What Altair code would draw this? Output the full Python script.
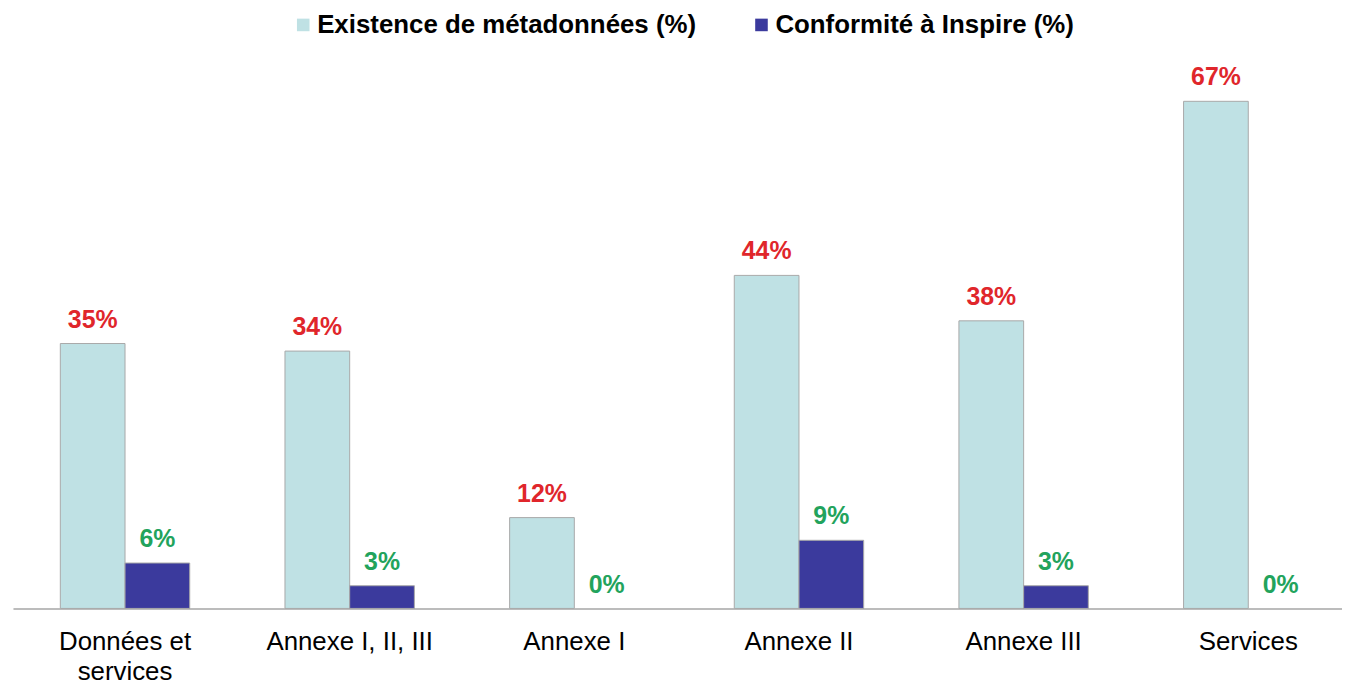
import altair as alt
import pandas as pd

categories = ["Données et services", "Annexe I, II, III", "Annexe I", "Annexe II", "Annexe III", "Services"]
existence = [35, 34, 12, 44, 38, 67]
conformite = [6, 3, 0, 9, 3, 0]
series = ["Existence de métadonnées (%)", "Conformité à Inspire (%)"]
bar_colors = ["#BFE1E4", "#3B3A9D"]
label_colors = ["#E0262B", "#22A35C"]

rows = []
for c, e, f in zip(categories, existence, conformite):
    rows.append({"cat": c, "series": series[0], "value": e, "label": f"{e}%"})
    rows.append({"cat": c, "series": series[1], "value": f, "label": f"{f}%"})
df = pd.DataFrame(rows)

font = "Liberation Sans"

x_enc = alt.X(
    "cat:N",
    sort=categories,
    scale=alt.Scale(paddingInner=0.424, paddingOuter=0.17, align=0.62),
    axis=alt.Axis(
        title=None,
        labelAngle=0,
        ticks=False,
        domainColor="#A6A6A6",
        domainWidth=1.5,
        labelFontSize=26,
        labelFont=font,
        labelColor="#000000",
        labelPadding=20,
        labelLineHeight=31,
        labelExpr="datum.value == 'Données et services' ? ['Données et', 'services'] : datum.value",
    ),
)
xoff = alt.XOffset("series:N", sort=series, scale=alt.Scale(domain=series, paddingInner=0, paddingOuter=0))
y_enc = alt.Y("value:Q", scale=alt.Scale(domain=[0, 70], nice=False), axis=None)

bars = alt.Chart(df).mark_bar(stroke="#A8A8A8", strokeWidth=1).encode(
    x=x_enc,
    xOffset=xoff,
    y=y_enc,
    strokeOpacity=alt.condition(alt.datum.value > 0, alt.value(1), alt.value(0)),
    color=alt.Color(
        "series:N",
        sort=series,
        scale=alt.Scale(domain=series, range=bar_colors),
        legend=alt.Legend(
            title=None,
            orient="none",
            legendX=279,
            legendY=-67,
            direction="horizontal",
            columns=2,
            columnPadding=52,
            symbolType="square",
            symbolSize=160,
            symbolStrokeWidth=0,
            labelFont=font,
            labelFontSize=26,
            labelFontWeight="bold",
            labelColor="#000000",
            labelOffset=1,
            labelLimit=500,
        ),
    ),
)

texts = alt.Chart(df).mark_text(
    font=font, fontSize=25, fontWeight="bold", baseline="alphabetic", dy=-16
).encode(
    x=x_enc,
    xOffset=xoff,
    y=y_enc,
    text="label:N",
    color=alt.Color("series:N", sort=series, scale=alt.Scale(domain=series, range=label_colors), legend=None),
)

chart = (
    alt.layer(bars, texts)
    .resolve_scale(color="independent")
    .properties(
        width=1337,
        height=533,
        padding={"left": 5, "top": 69, "right": 0, "bottom": 76},
        autosize=alt.AutoSizeParams(type="none"),
    )
    .configure_view(stroke=None)
)

chart.save("out.html", embed_options={"renderer": "svg", "actions": False})
